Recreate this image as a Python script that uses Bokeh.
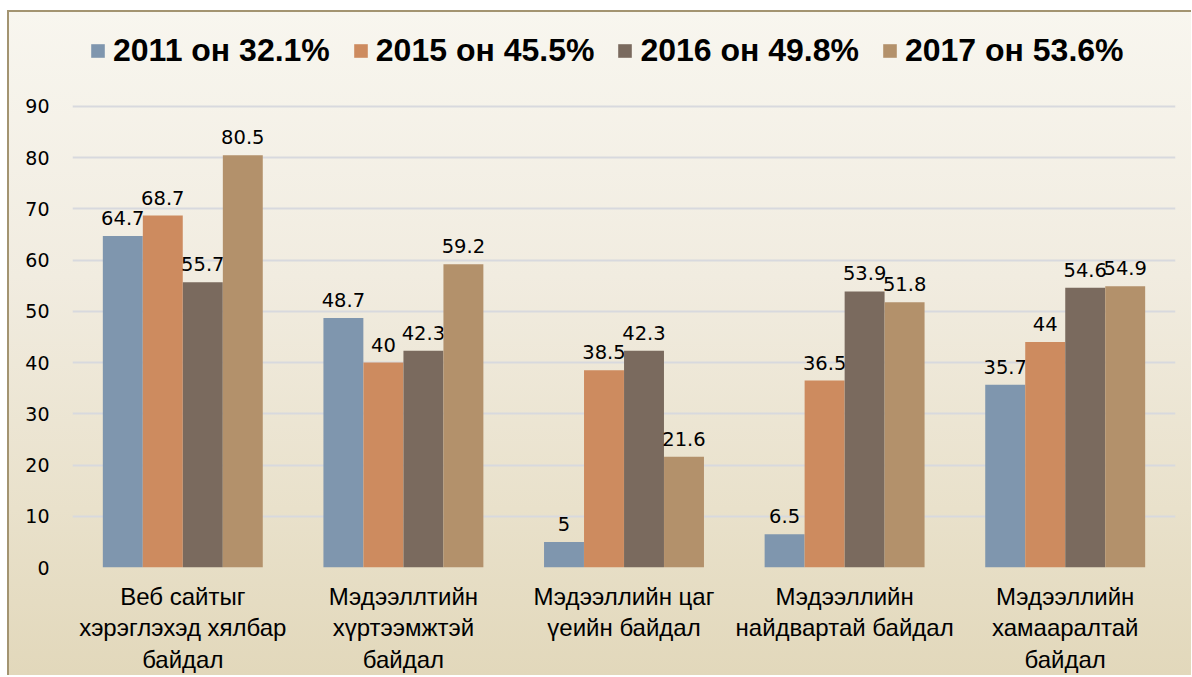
from bokeh.plotting import figure
from bokeh.models import Range1d, FactorRange, ColumnDataSource, Legend, LegendItem, FixedTicker
from bokeh.transform import dodge
from bokeh.core.properties import value
from bokeh.embed import file_html
from bokeh.resources import INLINE

categories = [
    "Веб сайтыг\nхэрэглэхэд хялбар\nбайдал",
    "Мэдээллтийн\nхүртээмжтэй\nбайдал",
    "Мэдээллийн цаг\nүеийн байдал",
    "Мэдээллийн\nнайдвартай байдал",
    "Мэдээллийн\nхамааралтай\nбайдал",
]
series_names = ["2011 он 32.1%", "2015 он 45.5%", "2016 он 49.8%", "2017 он 53.6%"]
v2011 = [64.7, 48.7, 5, 6.5, 35.7]
v2015 = [68.7, 40, 38.5, 36.5, 44]
v2016 = [55.7, 42.3, 42.3, 53.9, 54.6]
v2017 = [80.5, 59.2, 21.6, 51.8, 54.9]
y_ticks = [0, 10, 20, 30, 40, 50, 60, 70, 80, 90]

series = [v2011, v2015, v2016, v2017]
colors = ["#7f96ae", "#cd8b5f", "#7a6a5e", "#b3916b"]
offsets = [-0.272, -0.0907, 0.0907, 0.272]
bar_w = 0.181

def fmt(v):
    return ("%g" % v)

data = {"cat": categories}
for i, s in enumerate(series):
    data["s%d" % i] = s
    data["l%d" % i] = [fmt(v) for v in s]
src = ColumnDataSource(data)

p = figure(
    x_range=FactorRange(*categories, range_padding=0),
    y_range=Range1d(0, 107.96),
    width=1184, height=665,
    output_backend="svg", toolbar_location=None,
    min_border_left=65, min_border_right=16, min_border_top=4, min_border_bottom=20,
)
p.margin = (10, 0, 0, 7)
p.styles = {
    "background": "linear-gradient(to bottom, #f8f6ef 0%, #f1ece0 40%, #e9e1cb 75%, #e2d8bb 100%)",
    "box-shadow": "inset 0 2px 0 0 #a39471, inset 2px 0 0 0 #a39471",
}
p.border_fill_alpha = 0
p.background_fill_alpha = 0
p.outline_line_color = None

items = []
for i, s in enumerate(series):
    r = p.vbar(x=dodge("cat", offsets[i], range=p.x_range), top="s%d" % i, width=bar_w,
               source=src, fill_color=colors[i], line_color=None)
    p.text(x=dodge("cat", offsets[i], range=p.x_range), y="s%d" % i, text="l%d" % i,
           source=src, text_align="center", text_baseline="alphabetic", y_offset=-18,
           text_font=value("DejaVu Sans"), text_font_size="19.5px", text_color="#000000")
    items.append(LegendItem(label=series_names[i], renderers=[r]))

legend = Legend(items=items, orientation="horizontal", location=(17, 498),
                label_text_font="Liberation Sans", label_text_font_style="bold",
                label_text_font_size="32px", label_text_color="#000000",
                glyph_width=17, glyph_height=17, label_standoff=7, spacing=22,
                background_fill_alpha=0, border_line_color=None, padding=0, margin=0)
p.add_layout(legend, "center")

p.yaxis.ticker = FixedTicker(ticks=y_ticks)
p.yaxis.axis_line_color = None
p.yaxis.major_tick_line_color = None
p.yaxis.minor_tick_line_color = None
p.yaxis.major_tick_out = 0
p.yaxis.major_tick_in = 0
p.yaxis.major_label_standoff = 23
p.yaxis.major_label_text_font = "DejaVu Sans"
p.yaxis.major_label_text_font_size = "19px"
p.yaxis.major_label_text_color = "#000000"

p.xaxis.axis_line_color = None
p.xaxis.major_tick_line_color = None
p.xaxis.minor_tick_line_color = None
p.xaxis.major_tick_out = 0
p.xaxis.major_tick_in = 0
p.xaxis.major_label_standoff = 15
p.xaxis.major_label_text_font = "Liberation Sans"
p.xaxis.major_label_text_font_size = "24px"
p.xaxis.major_label_text_line_height = 1.17
p.xaxis.major_label_text_color = "#000000"

p.xgrid.grid_line_color = None
p.ygrid.grid_line_color = "#d8d9de"
p.ygrid.grid_line_width = 2

open("out.html", "w").write(file_html(p, INLINE))
